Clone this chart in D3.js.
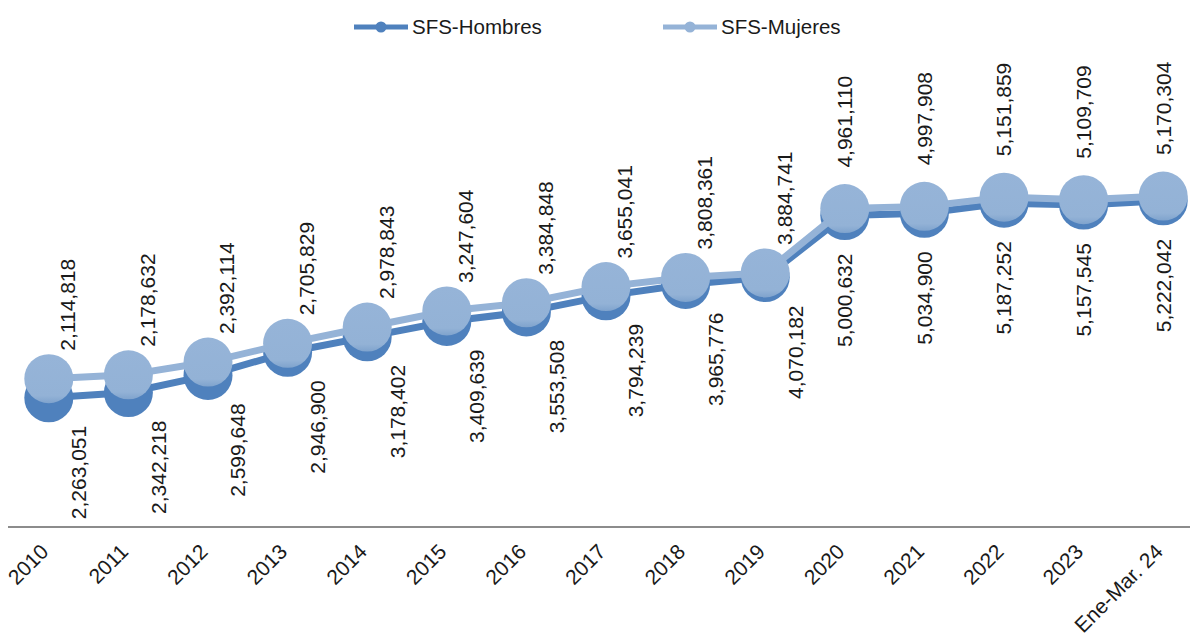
<!DOCTYPE html>
<html>
<head>
<meta charset="utf-8">
<script src="https://cdn.jsdelivr.net/npm/d3@7"></script>
<style>
  body { margin: 0; background: #fff; }
  svg text { font-family: "Liberation Sans", Arial, sans-serif; fill: #1a1a1a; }
</style>
</head>
<body>
<div id="container"></div>
<script>
/* CONSTANTS AND GLOBALS */
const width = 1190,
  height = 637,
  axisY = 527

// categories and series
const years = ["2010", "2011", "2012", "2013", "2014", "2015", "2016", "2017",
  "2018", "2019", "2020", "2021", "2022", "2023", "Ene-Mar. 24"]
const hombres = [2263051, 2342218, 2599648, 2946900, 3178402, 3409639, 3553508,
  3794239, 3965776, 4070182, 5000632, 5034900, 5187252, 5157545, 5222042]
const mujeres = [2114818, 2178632, 2392114, 2705829, 2978843, 3247604, 3384848,
  3655041, 3808361, 3884741, 4961110, 4997908, 5151859, 5109709, 5170304]
const seriesNames = ["SFS-Hombres", "SFS-Mujeres"]

const darkBlue = "#4f81bd",
  lightBlue = "#95b3d7"

const fmt = d3.format(",")

/* SCALES */
const xScale = d3.scaleBand()
  .domain(years)
  .range([9, 1203])

// each series sits on its own value axis
const yHom = d3.scaleLinear()
  .domain([322000, 7938500])
  .range([axisY, 20])

const yMuj = d3.scaleLinear()
  .domain([-368000, 8117000])
  .range([axisY, 20])

const cx = d => xScale(d) + xScale.bandwidth() / 2

/* SVG */
const svg = d3.select("#container")
  .append("svg")
  .attr("width", width)
  .attr("height", height)

// axis line
const xAxis = d3.axisBottom(xScale).tickSize(0).tickFormat("")
svg.append("g")
  .attr("transform", `translate(0,${axisY})`)
  .call(xAxis)
  .call(g => g.select(".domain").attr("stroke", "#8c8c8c").attr("stroke-width", 2)
    .attr("d", `M8,0H${width}`))

// tick labels
svg.append("g")
  .selectAll("text")
  .data(years)
  .join("text")
  .attr("transform", d => `translate(${cx(d) + 1},${axisY + 26}) rotate(-45)`)
  .attr("text-anchor", "end")
  .attr("font-size", 21)
  .text(d => d)

/* LINES */
const lineH = d3.line()
  .x((d, i) => cx(years[i]))
  .y(d => yHom(d))

const lineM = d3.line()
  .x((d, i) => cx(years[i]))
  .y(d => yMuj(d))

svg.append("path")
  .attr("d", lineH(hombres))
  .attr("fill", "none")
  .attr("stroke", darkBlue)
  .attr("stroke-width", 7)

svg.selectAll(".dotH")
  .data(hombres)
  .join("circle")
  .attr("class", "dotH")
  .attr("cx", (d, i) => cx(years[i]))
  .attr("cy", d => yHom(d))
  .attr("r", 24.5)
  .attr("fill", darkBlue)

svg.append("path")
  .attr("d", lineM(mujeres))
  .attr("fill", "none")
  .attr("stroke", lightBlue)
  .attr("stroke-width", 7)

// slight shading on light markers
const grad = svg.append("defs").append("linearGradient")
  .attr("id", "lightGrad")
  .attr("x1", 0).attr("y1", 0).attr("x2", 0).attr("y2", 1)
grad.append("stop").attr("offset", "0%").attr("stop-color", "#96b4d8")
grad.append("stop").attr("offset", "85%").attr("stop-color", "#93b2d6")
grad.append("stop").attr("offset", "100%").attr("stop-color", "#7fa3cd")

svg.selectAll(".dotM")
  .data(mujeres)
  .join("circle")
  .attr("class", "dotM")
  .attr("cx", (d, i) => cx(years[i]))
  .attr("cy", d => yMuj(d))
  .attr("r", 24.5)
  .attr("fill", "url(#lightGrad)")

/* DATA LABELS */
svg.selectAll(".lblM")
  .data(mujeres)
  .join("text")
  .attr("class", "lblM")
  .attr("transform", (d, i) => {
    const x = cx(years[i]) + (i < 10 ? 19 : 0)
    const y = yMuj(d) - (i < 10 ? 28 : 41)
    return `translate(${x},${y}) rotate(-90)`
  })
  .attr("dy", "0.35em")
  .attr("text-anchor", "start")
  .attr("font-size", 21)
  .text(d => fmt(d))

svg.selectAll(".lblH")
  .data(hombres)
  .join("text")
  .attr("class", "lblH")
  .attr("transform", (d, i) => {
    const x = cx(years[i]) + (i < 10 ? 30 : 0)
    const y = yHom(d) + (i < 10 ? 28 : 38)
    return `translate(${x},${y}) rotate(-90)`
  })
  .attr("dy", "0.35em")
  .attr("text-anchor", "end")
  .attr("font-size", 21)
  .text(d => fmt(d))

/* LEGEND */
const legendX = [354, 663]
const legend = svg.append("g")
  .selectAll("g")
  .data(seriesNames)
  .join("g")
  .attr("transform", (d, i) => `translate(${legendX[i]},27)`)

legend.append("line")
  .attr("x1", 0).attr("x2", 54)
  .attr("stroke", (d, i) => i === 0 ? darkBlue : lightBlue)
  .attr("stroke-width", 5)

legend.append("circle")
  .attr("cx", 27)
  .attr("r", 5.5)
  .attr("fill", (d, i) => i === 0 ? darkBlue : lightBlue)

legend.append("text")
  .attr("x", 58)
  .attr("y", 7)
  .attr("font-size", 20.5)
  .text(d => d)
</script>
</body>
</html>
